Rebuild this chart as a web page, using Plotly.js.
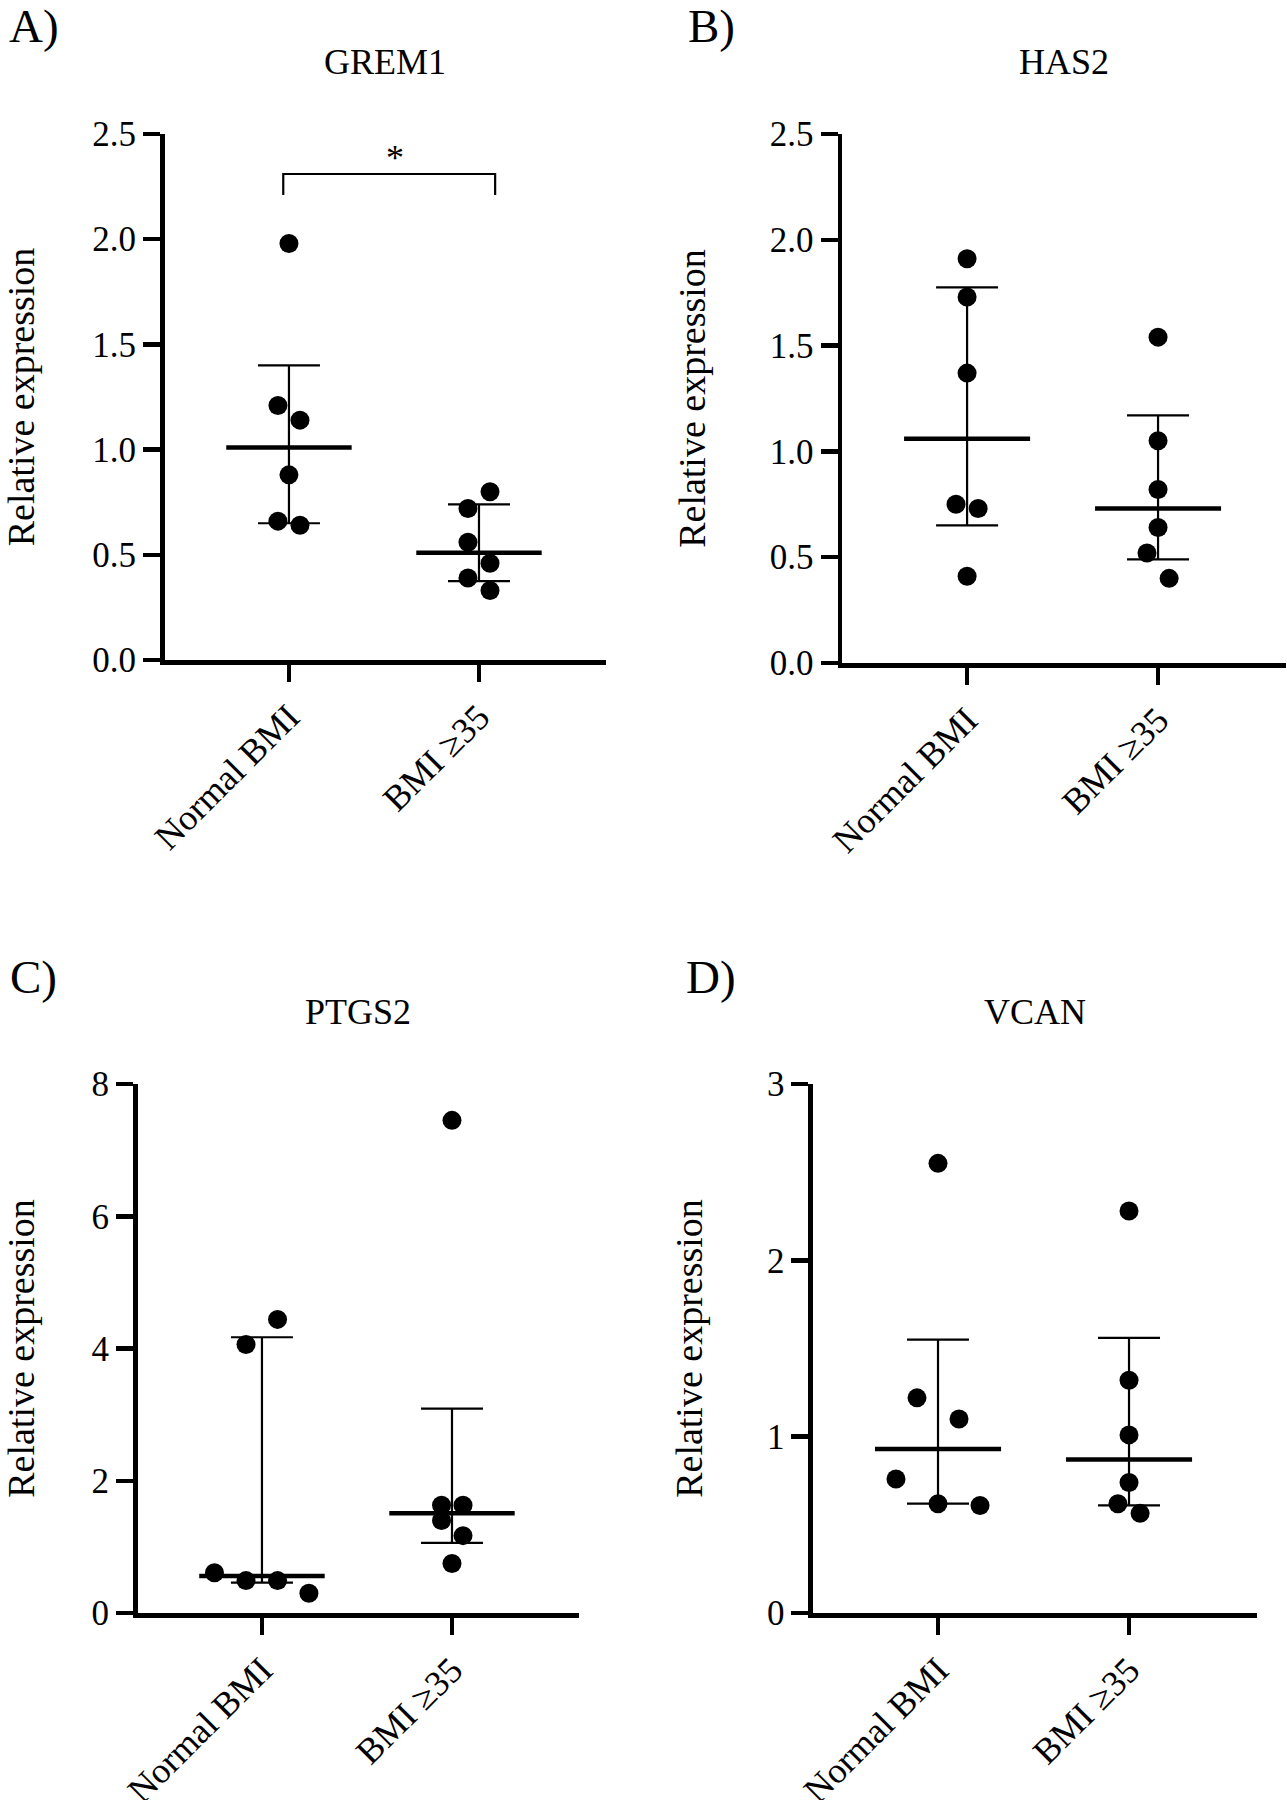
<!DOCTYPE html>
<html>
<head>
<meta charset="utf-8">
<script src="https://cdn.plot.ly/plotly-3.0.1.min.js"></script>
<style>
  html, body { margin: 0; padding: 0; background: #fff; }
  #chart { width: 1287px; height: 1800px; }
</style>
</head>
<body>
<div id="chart"></div>
<script>
// ---------- data ----------
const categories = ["Normal BMI", "BMI \u226535"];
const yTitle = "Relative expression";

// GREM1 (panel A)
const grem1Normal = [1.98, 1.21, 1.14, 0.88, 0.66, 0.64];
const grem1NormalJit = [0, -0.058, 0.058, 0, -0.058, 0.058];
const grem1Bmi = [0.80, 0.72, 0.56, 0.46, 0.39, 0.33];
const grem1BmiJit = [0.058, -0.058, -0.058, 0.058, -0.058, 0.058];
const grem1Median = [1.01, 0.51];
const grem1Q1 = [0.65, 0.375];
const grem1Q3 = [1.40, 0.74];

// HAS2 (panel B)
const has2Normal = [1.91, 1.73, 1.37, 0.75, 0.73, 0.41];
const has2NormalJit = [0, 0, 0, -0.058, 0.058, 0];
const has2Bmi = [1.54, 1.05, 0.82, 0.64, 0.52, 0.40];
const has2BmiJit = [0, 0, 0, 0, -0.058, 0.058];
const has2Median = [1.06, 0.73];
const has2Q1 = [0.65, 0.49];
const has2Q3 = [1.775, 1.17];

// PTGS2 (panel C)
const ptgs2Normal = [4.44, 4.06, 0.61, 0.49, 0.49, 0.30];
const ptgs2NormalJit = [0.082, -0.084, -0.25, -0.084, 0.082, 0.247];
const ptgs2Bmi = [7.45, 1.63, 1.63, 1.40, 1.17, 0.75];
const ptgs2BmiJit = [0, -0.055, 0.058, -0.055, 0.058, 0];
const ptgs2Median = [0.56, 1.51];
const ptgs2Q1 = [0.46, 1.06];
const ptgs2Q3 = [4.17, 3.09];

// VCAN (panel D)
const vcanNormal = [2.55, 1.22, 1.10, 0.76, 0.62, 0.61];
const vcanNormalJit = [0, -0.11, 0.11, -0.22, 0, 0.22];
const vcanBmi = [2.28, 1.32, 1.01, 0.74, 0.62, 0.565];
const vcanBmiJit = [0, 0, 0, 0, -0.058, 0.058];
const vcanMedian = [0.93, 0.87];
const vcanQ1 = [0.62, 0.61];
const vcanQ3 = [1.55, 1.56];

// significance bracket (panel A)
const sigX = [-0.03, 1.085];
const sigYTop = 2.31;
const sigYFoot = 2.21;
const sigLabel = "*";
const sigLabelX = 0.56;

// ---------- drawing ----------
const FONT = "Liberation Serif";
const W = 1287, H = 1800;

const panels = [
  { key: "", title: "GREM1", letter: "A)", normal: grem1Normal, nJit: grem1NormalJit, bmi: grem1Bmi, bJit: grem1BmiJit,
    med: grem1Median, q1: grem1Q1, q3: grem1Q3, yrange: [0, 2.5], dtick: 0.5, fmt: ".1f",
    px: [164.5, 606.3], py: [134, 660], letterPos: [7, 26], titleY: 62, standoff: 60 },
  { key: "2", title: "HAS2", letter: "B)", normal: has2Normal, nJit: has2NormalJit, bmi: has2Bmi, bJit: has2BmiJit,
    med: has2Median, q1: has2Q1, q3: has2Q3, yrange: [0, 2.5], dtick: 0.5, fmt: ".1f",
    px: [842, 1286], py: [134, 663], letterPos: [686, 26], titleY: 62, standoff: 54 },
  { key: "3", title: "PTGS2", letter: "C)", normal: ptgs2Normal, nJit: ptgs2NormalJit, bmi: ptgs2Bmi, bJit: ptgs2BmiJit,
    med: ptgs2Median, q1: ptgs2Q1, q3: ptgs2Q3, yrange: [0, 8], dtick: 2, fmt: "d",
    px: [137.5, 579.3], py: [1084, 1613], letterPos: [8, 977], titleY: 1012, standoff: 60 },
  { key: "4", title: "VCAN", letter: "D)", normal: vcanNormal, nJit: vcanNormalJit, bmi: vcanBmi, bJit: vcanBmiJit,
    med: vcanMedian, q1: vcanQ1, q3: vcanQ3, yrange: [0, 3], dtick: 1, fmt: "d",
    px: [812.9, 1257], py: [1084, 1613], letterPos: [684, 977], titleY: 1012, standoff: 54 }
];

const traces = [];
const layout = {
  width: W, height: H,
  margin: { l: 0, r: 0, t: 0, b: 0 },
  paper_bgcolor: "#ffffff", plot_bgcolor: "#ffffff",
  showlegend: false,
  font: { family: FONT, color: "#000000" },
  annotations: [],
  shapes: []
};

const XRANGE = [-0.655, 1.67];
const MED_HALF = 0.33;

panels.forEach(p => {
  const xa = "x" + p.key, ya = "y" + p.key;
  const xName = "xaxis" + p.key, yName = "yaxis" + p.key;

  layout[xName] = {
    domain: [p.px[0] / W, p.px[1] / W],
    range: XRANGE, anchor: ya,
    tickvals: [0, 1], ticktext: categories, tickangle: -45,
    showline: true, linecolor: "#000", linewidth: 4.5,
    ticks: "outside", ticklen: 17, tickwidth: 4.5, tickcolor: "#000",
    showgrid: false, zeroline: false,
    tickfont: { family: FONT, size: 36, color: "#000" }
  };
  layout[yName] = {
    domain: [1 - p.py[1] / H, 1 - p.py[0] / H],
    range: p.yrange, anchor: xa, dtick: p.dtick, tick0: 0, tickformat: p.fmt,
    showline: true, linecolor: "#000", linewidth: 4.5,
    ticks: "outside", ticklen: 17, tickwidth: 4.5, tickcolor: "#000",
    showgrid: false, zeroline: false,
    tickfont: { family: FONT, size: 35, color: "#000" },
    title: { text: yTitle, font: { family: FONT, size: 38, color: "#000" }, standoff: p.standoff }
  };

  // IQR error bars at the medians
  traces.push({
    type: "scatter", mode: "markers", xaxis: xa, yaxis: ya,
    x: [0, 1], y: p.med,
    marker: { size: 1, color: "rgba(0,0,0,0)" },
    error_y: {
      type: "data", symmetric: false,
      array: p.q3.map((v, i) => v - p.med[i]),
      arrayminus: p.med.map((v, i) => v - p.q1[i]),
      width: 31, thickness: 2.2, color: "#000"
    },
    hoverinfo: "skip"
  });

  // median lines
  traces.push({
    type: "scatter", mode: "lines", xaxis: xa, yaxis: ya,
    x: [0 - MED_HALF, 0 + MED_HALF, null, 1 - MED_HALF, 1 + MED_HALF],
    y: [p.med[0], p.med[0], null, p.med[1], p.med[1]],
    line: { color: "#000", width: 4.5 }, hoverinfo: "skip"
  });

  // dots
  traces.push({
    type: "scatter", mode: "markers", xaxis: xa, yaxis: ya,
    x: p.nJit.map(j => 0 + j), y: p.normal,
    marker: { size: 19, color: "#000" }, cliponaxis: false, name: categories[0]
  });
  traces.push({
    type: "scatter", mode: "markers", xaxis: xa, yaxis: ya,
    x: p.bJit.map(j => 1 + j), y: p.bmi,
    marker: { size: 19, color: "#000" }, cliponaxis: false, name: categories[1]
  });

  // panel title
  layout.annotations.push({
    xref: "paper", yref: "paper",
    x: (p.px[0] + p.px[1]) / 2 / W, y: 1 - p.titleY / H,
    xanchor: "center", yanchor: "middle", showarrow: false,
    text: p.title, font: { family: FONT, size: 36, color: "#000" }
  });
  // panel letter
  layout.annotations.push({
    xref: "paper", yref: "paper",
    x: p.letterPos[0] / W, y: 1 - p.letterPos[1] / H,
    xanchor: "left", yanchor: "middle", showarrow: false,
    text: p.letter, font: { family: FONT, size: 47, color: "#000" }
  });
});

// significance bracket in panel A
traces.push({
  type: "scatter", mode: "lines", xaxis: "x", yaxis: "y",
  x: [sigX[0], sigX[0], sigX[1], sigX[1]],
  y: [sigYFoot, sigYTop, sigYTop, sigYFoot],
  line: { color: "#000", width: 2.2 }, hoverinfo: "skip", cliponaxis: false
});
layout.annotations.push({
  xref: "x", yref: "y", x: sigLabelX, y: sigYTop,
  xanchor: "center", yanchor: "bottom", showarrow: false, yshift: -6,
  text: sigLabel, font: { family: FONT, size: 36, color: "#000" }
});

Plotly.newPlot("chart", traces, layout, { displayModeBar: false, staticPlot: true });
</script>
</body>
</html>
